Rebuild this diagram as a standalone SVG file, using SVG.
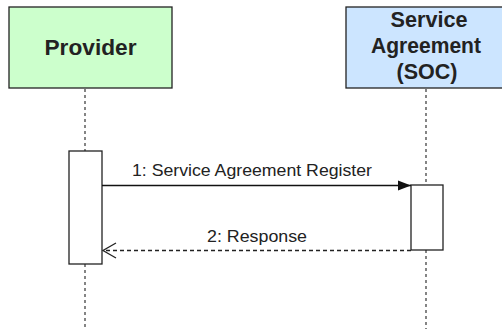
<svg xmlns="http://www.w3.org/2000/svg" width="502" height="329" viewBox="0 0 502 329">
<style>
.box{stroke:#222;stroke-width:1.3}
.title{font-family:"Liberation Sans",Arial,sans-serif;font-weight:bold;font-size:21.5px;fill:#222;text-anchor:middle}
.lbl{font-family:"Liberation Sans",Arial,sans-serif;font-size:17px;fill:#222;text-anchor:middle}
.life{stroke:#444;stroke-width:1.3;stroke-dasharray:3 3;fill:none}
.act{fill:#fff;stroke:#222;stroke-width:1.3}
</style>
<defs>
<marker id="filled" markerWidth="14" markerHeight="12" refX="13" refY="6" orient="auto" markerUnits="userSpaceOnUse">
<path d="M0,1 L13,6 L0,11 Z" fill="#111"/>
</marker>
<marker id="open" markerWidth="16" markerHeight="18" refX="14" refY="9" orient="auto" markerUnits="userSpaceOnUse">
<path d="M1,1.5 L14,9 L1,16.5" fill="none" stroke="#222" stroke-width="1.3"/>
</marker>
</defs>
<rect width="502" height="329" fill="#fff"/>
<g id="lifelines">
<line class="life" x1="85" y1="89" x2="85" y2="151"/>
<line class="life" x1="85" y1="264" x2="85" y2="329"/>
<line class="life" x1="426" y1="89" x2="426" y2="185"/>
<line class="life" x1="426" y1="250" x2="426" y2="329"/>
</g>
<g id="provider">
<rect class="box" x="9" y="7" width="163" height="81" fill="#ccffcc"/>
<text class="title" x="90.5" y="55" textLength="92" lengthAdjust="spacingAndGlyphs">Provider</text>
</g>
<g id="soc">
<rect class="box" x="346" y="7" width="170" height="81" fill="#cce5ff"/>
<text class="title" x="429" y="27" textLength="77" lengthAdjust="spacingAndGlyphs">Service</text>
<text class="title" x="426" y="53" textLength="110" lengthAdjust="spacingAndGlyphs">Agreement</text>
<text class="title" x="427" y="79">(SOC)</text>
</g>
<g id="provider-activation">
<rect class="act" x="69" y="151" width="33" height="113"/>
</g>
<g id="soc-activation">
<rect class="act" x="411" y="185" width="32" height="65"/>
</g>
<g id="connectors">
<line x1="102" y1="185.5" x2="411" y2="185.5" stroke="#111" stroke-width="1.3" marker-end="url(#filled)"/>
<text class="lbl" x="252" y="176" textLength="240" lengthAdjust="spacingAndGlyphs">1: Service Agreement Register</text>
<line x1="411" y1="250.5" x2="103" y2="250.5" stroke="#222" stroke-width="1.3" stroke-dasharray="4 3" marker-end="url(#open)"/>
<text class="lbl" x="257" y="242" textLength="100" lengthAdjust="spacingAndGlyphs">2: Response</text>
</g>
</svg>
